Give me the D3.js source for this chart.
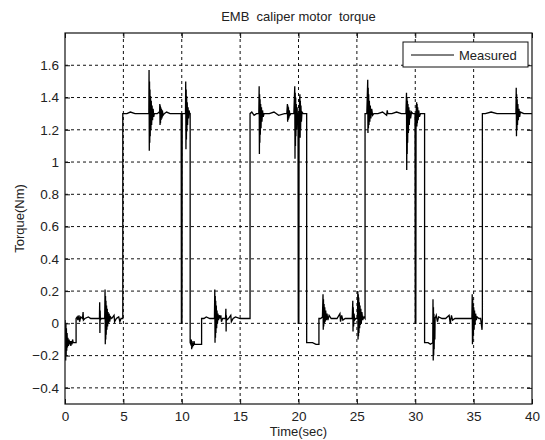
<!DOCTYPE html>
<html>
<head>
<meta charset="utf-8">
<script src="https://cdn.jsdelivr.net/npm/d3@7"></script>
<style>
  body { margin: 0; background: #fff; }
  text { font-family: "Liberation Sans", Arial, sans-serif; fill: #222; white-space: pre; }
</style>
</head>
<body>
<div id="chart"></div>
<script>
var chartTitle = "EMB  caliper motor  torque";
var xLabel = "Time(sec)";
var yLabel = "Torque(Nm)";
var legendLabels = ["Measured"];
var xTicks = [0, 5, 10, 15, 20, 25, 30, 35, 40];
var yTicks = [-0.4, -0.2, 0, 0.2, 0.4, 0.6, 0.8, 1, 1.2, 1.4, 1.6];

// measured torque, [time (s), torque (Nm)]
var measured = [
  [0.00, 0.02], [0.04, -0.06], [0.06, -0.23], [0.08, 0.00], [0.10, -0.20], [0.12, -0.03],
  [0.15, -0.17], [0.18, -0.06], [0.21, -0.15], [0.25, -0.09], [0.30, -0.14], [0.35, -0.10],
  [0.40, -0.13], [0.45, -0.11], [0.50, -0.14], [0.55, -0.11], [0.60, -0.13], [0.65, -0.10],
  [0.70, -0.12], [0.80, -0.12], [0.95, -0.12],
  [0.95, 0.03], [1.05, 0.04], [1.10, 0.02], [1.20, 0.05], [1.25, 0.01], [1.35, 0.04],
  [1.50, 0.03], [1.55, 0.07], [1.58, 0.02], [1.70, 0.03], [2.00, 0.04], [2.20, 0.03],
  [2.50, 0.03], [2.95, 0.03], [2.97, 0.13], [2.99, -0.06], [3.01, 0.08], [3.03, 0.02],
  [3.10, 0.03], [3.40, 0.03], [3.43, 0.21], [3.45, -0.13], [3.47, 0.17], [3.49, -0.10],
  [3.51, 0.14], [3.53, -0.07], [3.56, 0.11], [3.59, -0.04], [3.62, 0.09], [3.65, -0.02],
  [3.69, 0.07], [3.73, 0.00], [3.78, 0.06], [3.83, 0.01], [3.90, 0.04], [4.00, 0.03],
  [4.20, 0.05], [4.25, 0.01], [4.40, 0.03], [4.60, 0.04], [4.70, 0.01], [4.80, 0.03], [4.95, 0.03],
  [4.95, 1.30], [5.30, 1.30], [5.60, 1.31], [6.00, 1.30], [6.50, 1.30], [7.00, 1.30], [7.18, 1.30],
  [7.20, 1.57], [7.22, 1.07], [7.24, 1.50], [7.26, 1.12], [7.28, 1.45], [7.30, 1.16],
  [7.33, 1.41], [7.36, 1.20], [7.39, 1.38], [7.42, 1.23], [7.46, 1.35], [7.50, 1.26],
  [7.55, 1.33], [7.60, 1.28], [7.65, 1.30], [7.90, 1.30], [8.05, 1.31], [8.10, 1.30],
  [8.12, 1.36], [8.14, 1.23], [8.16, 1.35], [8.18, 1.24], [8.20, 1.34], [8.23, 1.26],
  [8.26, 1.33], [8.30, 1.27], [8.34, 1.32], [8.40, 1.29], [8.50, 1.30], [8.70, 1.31],
  [9.00, 1.30], [9.50, 1.30], [9.95, 1.30], [9.97, 0.00], [10.02, 0.00], [10.04, 1.30],
  [10.32, 1.30], [10.34, 1.50], [10.36, 1.08], [10.38, 1.45], [10.40, 1.14], [10.42, 1.41],
  [10.44, 1.19], [10.47, 1.37], [10.50, 1.23], [10.54, 1.34], [10.58, 1.27], [10.63, 1.32],
  [10.68, 1.30], [10.72, 1.30],
  [10.72, -0.12], [10.78, -0.13], [10.82, -0.10], [10.85, -0.16], [10.88, -0.11], [10.92, -0.15],
  [10.96, -0.12], [11.00, -0.14], [11.05, -0.11], [11.10, -0.13], [11.30, -0.13], [11.50, -0.13],
  [11.70, -0.13],
  [11.70, 0.03], [11.90, 0.03], [12.10, 0.04], [12.40, 0.03], [12.80, 0.03], [12.83, 0.21],
  [12.85, -0.12], [12.87, 0.17], [12.89, -0.09], [12.91, 0.14], [12.93, -0.06], [12.96, 0.11],
  [12.99, -0.03], [13.02, 0.08], [13.06, 0.00], [13.10, 0.06], [13.15, 0.02], [13.22, 0.05],
  [13.30, 0.03], [13.35, 0.05], [13.40, 0.01], [13.50, 0.03], [13.75, 0.03], [13.78, 0.09],
  [13.80, -0.05], [13.82, 0.05], [13.85, 0.02], [14.00, 0.03], [14.20, 0.05], [14.25, 0.01],
  [14.40, 0.03], [14.60, 0.04], [15.00, 0.03], [15.40, 0.03], [15.85, 0.03],
  [15.85, 1.30], [16.00, 1.31], [16.20, 1.29], [16.40, 1.30], [16.60, 1.30], [16.63, 1.47],
  [16.65, 1.05], [16.67, 1.42], [16.69, 1.12], [16.71, 1.39], [16.73, 1.17], [16.76, 1.36],
  [16.79, 1.21], [16.83, 1.34], [16.87, 1.25], [16.92, 1.32], [16.98, 1.28], [17.05, 1.30],
  [17.50, 1.30], [17.90, 1.31], [18.30, 1.29], [18.80, 1.30], [19.00, 1.30], [19.05, 1.36],
  [19.07, 1.25], [19.09, 1.35], [19.11, 1.26], [19.14, 1.34], [19.17, 1.27], [19.21, 1.32],
  [19.26, 1.29], [19.35, 1.30], [19.60, 1.30], [19.68, 1.47], [19.70, 1.02], [19.72, 1.43],
  [19.74, 1.10], [19.76, 1.40], [19.78, 1.16], [19.81, 1.36], [19.84, 1.20], [19.88, 1.34],
  [19.92, 1.26], [19.96, 1.30], [19.98, 0.00], [20.03, 0.00], [20.05, 1.30], [20.12, 1.42],
  [20.14, 1.15], [20.16, 1.38], [20.18, 1.20], [20.21, 1.35], [20.25, 1.25], [20.30, 1.31],
  [20.40, 1.30], [20.60, 1.30], [20.70, 1.30],
  [20.70, -0.12], [20.90, -0.12], [21.20, -0.12], [21.50, -0.13], [21.75, -0.13],
  [21.75, 0.03], [21.90, 0.03], [22.05, 0.04], [22.10, 0.18], [22.12, -0.04], [22.14, 0.15],
  [22.16, -0.02], [22.19, 0.12], [22.22, 0.00], [22.25, 0.10], [22.29, 0.01], [22.33, 0.08],
  [22.38, 0.02], [22.44, 0.06], [22.52, 0.02], [22.62, 0.05], [22.80, 0.03], [23.00, 0.03],
  [23.30, 0.03], [23.55, 0.06], [23.60, 0.01], [23.70, 0.05], [23.80, 0.02], [24.00, 0.03],
  [24.30, 0.03], [24.60, 0.03], [24.65, 0.14], [24.67, -0.05], [24.69, 0.10], [24.72, -0.02],
  [24.76, 0.06], [24.80, 0.02], [24.90, 0.03], [25.05, 0.03], [25.08, 0.20], [25.10, -0.10],
  [25.12, 0.18], [25.14, -0.08], [25.16, 0.16], [25.18, -0.06], [25.21, 0.13], [25.24, -0.03],
  [25.27, 0.11], [25.30, -0.01], [25.34, 0.09], [25.38, 0.00], [25.43, 0.07], [25.50, 0.02],
  [25.60, 0.04], [25.70, 0.03],
  [25.70, 1.30], [25.85, 1.30], [25.93, 1.51], [25.95, 1.18], [25.97, 1.46], [25.99, 1.21],
  [26.01, 1.42], [26.04, 1.23], [26.07, 1.38], [26.11, 1.25], [26.15, 1.35], [26.20, 1.27],
  [26.27, 1.33], [26.35, 1.29], [26.45, 1.30], [26.80, 1.30], [27.20, 1.31], [27.55, 1.29],
  [27.60, 1.32], [27.65, 1.30], [28.00, 1.30], [28.40, 1.31], [28.80, 1.30], [29.20, 1.30],
  [29.25, 1.43], [29.27, 0.95], [29.29, 1.40], [29.31, 1.05], [29.33, 1.38], [29.35, 1.12],
  [29.38, 1.36], [29.41, 1.18], [29.45, 1.34], [29.49, 1.23], [29.54, 1.32], [29.60, 1.27],
  [29.68, 1.31], [29.80, 1.30], [29.98, 1.30], [30.00, 0.00], [30.05, 0.00], [30.07, 1.30],
  [30.12, 1.37], [30.14, 1.22], [30.16, 1.36], [30.18, 1.24], [30.21, 1.34], [30.25, 1.26],
  [30.30, 1.32], [30.36, 1.28], [30.45, 1.30], [30.60, 1.30], [30.80, 1.30],
  [30.80, -0.12], [30.90, -0.12], [31.10, -0.12], [31.30, -0.13], [31.50, -0.12], [31.52, 0.15],
  [31.54, -0.23], [31.56, 0.10], [31.58, -0.20], [31.60, 0.06], [31.62, -0.16], [31.65, 0.04],
  [31.68, -0.10], [31.70, 0.03], [31.80, 0.05], [31.90, 0.01], [32.00, 0.04], [32.30, 0.03],
  [32.60, 0.03], [32.90, 0.05], [33.00, 0.00], [33.10, 0.05], [33.20, 0.02], [33.40, 0.03],
  [33.80, 0.03], [34.20, 0.03], [34.60, 0.03], [34.85, 0.03], [34.88, 0.18], [34.90, -0.13],
  [34.92, 0.15], [34.94, -0.10], [34.96, 0.12], [34.98, -0.07], [35.01, 0.10], [35.04, -0.04],
  [35.08, 0.08], [35.12, -0.01], [35.17, 0.06], [35.23, 0.02], [35.30, 0.04], [35.45, 0.03],
  [35.60, 0.03], [35.72, -0.04], [35.75, 0.03],
  [35.75, 1.30], [36.00, 1.30], [36.50, 1.31], [37.00, 1.30], [37.50, 1.30], [38.00, 1.30],
  [38.50, 1.30], [38.62, 1.30], [38.65, 1.46], [38.67, 1.16], [38.69, 1.42], [38.71, 1.20],
  [38.73, 1.39], [38.76, 1.23], [38.79, 1.36], [38.83, 1.26], [38.88, 1.33], [38.94, 1.28],
  [39.00, 1.31], [39.30, 1.30], [39.70, 1.30], [40.00, 1.30]
];

var W = 545, H = 440;
var margin = { top: 33, right: 13, bottom: 36, left: 65 };
var plotW = W - margin.left - margin.right,
    plotH = H - margin.top - margin.bottom;

var svg = d3.select("#chart").append("svg")
    .attr("width", W)
    .attr("height", H);

var g = svg.append("g")
    .attr("transform", "translate(" + margin.left + "," + margin.top + ")");

var x = d3.scaleLinear().domain([0, 40]).range([0, plotW]);
var y = d3.scaleLinear().domain([-0.5, 1.8]).range([plotH, 0]);

// dotted grid
g.selectAll(".vgrid")
    .data(xTicks.slice(1, -1))
    .enter().append("line")
    .attr("x1", d => x(d)).attr("x2", d => x(d))
    .attr("y1", 0).attr("y2", plotH)
    .attr("stroke", "#111")
    .attr("stroke-width", 1)
    .attr("stroke-dasharray", "3,3");

g.selectAll(".hgrid")
    .data(yTicks)
    .enter().append("line")
    .attr("x1", 0).attr("x2", plotW)
    .attr("y1", d => y(d)).attr("y2", d => y(d))
    .attr("stroke", "#111")
    .attr("stroke-width", 1)
    .attr("stroke-dasharray", "3,3");

g.append("clipPath").attr("id", "clip")
  .append("rect").attr("width", plotW).attr("height", plotH);

var line = d3.line()
    .x(d => x(d[0]))
    .y(d => y(d[1]));

g.append("path")
    .datum(measured)
    .attr("clip-path", "url(#clip)")
    .attr("d", line)
    .attr("fill", "none")
    .attr("stroke", "#000")
    .attr("stroke-width", 1.3);

// axes, ticks inward like matlab
var fmt = d => d3.format("")(Math.round(d * 10) / 10);

var xAxis = g.append("g")
    .attr("transform", "translate(0," + plotH + ")")
    .call(d3.axisBottom(x).tickValues(xTicks).tickSize(-5).tickPadding(7).tickFormat(fmt));
var xTop = g.append("g")
    .call(d3.axisTop(x).tickValues(xTicks).tickSize(-5).tickFormat(""));
var yAxis = g.append("g")
    .call(d3.axisLeft(y).tickValues(yTicks).tickSize(-5).tickPadding(6).tickFormat(fmt));
var yRight = g.append("g")
    .attr("transform", "translate(" + plotW + ",0)")
    .call(d3.axisRight(y).tickValues(yTicks).tickSize(-5).tickFormat(""));

[xAxis, xTop, yAxis, yRight].forEach(a => {
  a.selectAll(".domain").remove();
  a.selectAll("line").attr("stroke", "#111");
  a.selectAll("text").style("font-size", "13.5px").style("fill", "#222")
    .attr("font-family", "Liberation Sans, Arial, sans-serif");
});

g.append("rect")
    .attr("width", plotW).attr("height", plotH)
    .attr("fill", "none")
    .attr("stroke", "#111")
    .attr("stroke-width", 1.2);

// legend
var leg = g.append("g").attr("transform", "translate(" + (plotW - 129) + ",9)");
leg.append("rect")
    .attr("width", 125).attr("height", 25)
    .attr("fill", "#fff")
    .attr("stroke", "#111")
    .attr("stroke-width", 1);
leg.append("line")
    .attr("x1", 8).attr("x2", 51)
    .attr("y1", 13).attr("y2", 13)
    .attr("stroke", "#000").attr("stroke-width", 1);
leg.append("text")
    .attr("x", 56).attr("y", 17.5)
    .style("font-size", "13px")
    .text(legendLabels[0]);

// labels
svg.append("text")
    .attr("x", margin.left + plotW / 2).attr("y", 21)
    .attr("text-anchor", "middle")
    .attr("xml:space", "preserve")
    .style("font-size", "13px")
    .text(chartTitle);

svg.append("text")
    .attr("x", margin.left + plotW / 2).attr("y", 436)
    .attr("text-anchor", "middle")
    .style("font-size", "13px")
    .text(xLabel);

svg.append("text")
    .attr("transform", "translate(24," + (margin.top + plotH / 2) + ") rotate(-90)")
    .attr("text-anchor", "middle")
    .style("font-size", "13px")
    .text(yLabel);
</script>
</body>
</html>
